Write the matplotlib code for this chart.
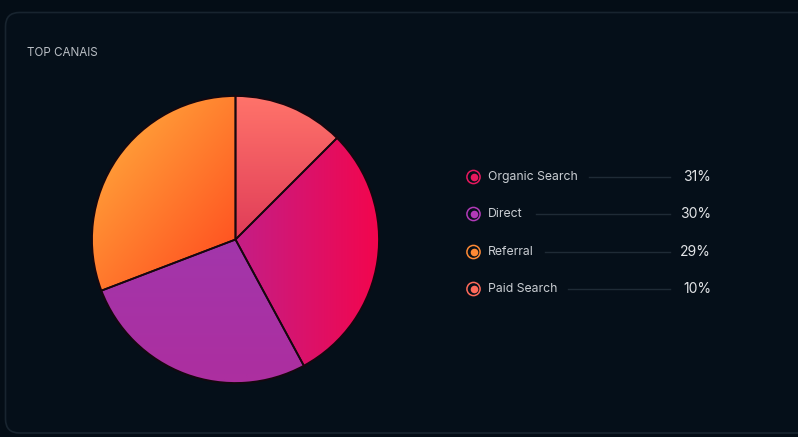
import numpy as np
import matplotlib
matplotlib.use("Agg")
import matplotlib.pyplot as plt
from matplotlib.colors import LinearSegmentedColormap
from matplotlib.patches import FancyBboxPatch

plt.rcParams["font.family"] = ["Inter", "DejaVu Sans"]

# legend data (as printed)
channels = ["Organic Search", "Direct", "Referral", "Paid Search"]
share_pct = [31, 30, 29, 10]
slice_size = [29.6, 27.1, 30.8, 12.5]
dot_colors = ["#e8185e", "#b23ab8", "#ff8a35", "#ff6a5a"]
# gradient (start, end) per slice, with direction angle in degrees
grad_colors = [("#c41e86", "#f2064e"), ("#a236ab", "#ac2fa0"),
               ("#ff9836", "#ff5522"), ("#ff736a", "#e03c58")]
grad_dir = [0, -90, -40, -90]

BG = "#040d16"
W, H = 798, 437
fig = plt.figure(figsize=(W / 100, H / 100), dpi=100, facecolor=BG)

# overlay axes in pixel coordinates
ov = fig.add_axes([0, 0, 1, 1])
ov.set_xlim(0, W)
ov.set_ylim(H, 0)
ov.axis("off")
card = FancyBboxPatch((5.5, 12.5), 820, 420.5, boxstyle="round,pad=0,rounding_size=14",
                      facecolor="#050f19", edgecolor="#18242f", linewidth=1.2)
ov.add_patch(card)
ov.text(27, 53, "TOP CANAIS", color="#b9bec4", fontsize=8.4, va="center", ha="left")

# pie
cx, cy, r = 235.5, 239.5, 143.5
pax = fig.add_axes([(cx - r) / W, (H - cy - r) / H, 2 * r / W, 2 * r / H])
pax.axis("off")
order = [3, 0, 1, 2]  # clockwise from 12 o'clock
wedges, _ = pax.pie([slice_size[i] for i in order], startangle=90, counterclock=False,
                    radius=1, colors=["none"] * 4,
                    wedgeprops=dict(edgecolor="#16070f", linewidth=1.3))
pax.set_xlim(-1, 1)
pax.set_ylim(-1, 1)

gx, gy = np.meshgrid(np.linspace(-1, 1, 300), np.linspace(1, -1, 300))
for w, i in zip(wedges, order):
    a = np.deg2rad(grad_dir[i])
    t = gx * np.cos(a) + gy * np.sin(a)
    th = np.deg2rad((w.theta1 + w.theta2) / 2)
    # normalise the gradient over the wedge's own extent
    pts = np.array([[0, 0], [np.cos(np.deg2rad(w.theta1)), np.sin(np.deg2rad(w.theta1))],
                    [np.cos(np.deg2rad(w.theta2)), np.sin(np.deg2rad(w.theta2))],
                    [np.cos(th), np.sin(th)]])
    proj = pts[:, 0] * np.cos(a) + pts[:, 1] * np.sin(a)
    t = np.clip((t - proj.min()) / (proj.max() - proj.min()), 0, 1)
    cmap = LinearSegmentedColormap.from_list("g%d" % i, grad_colors[i])
    im = pax.imshow(t, cmap=cmap, extent=(-1, 1, -1, 1), vmin=0, vmax=1,
                    interpolation="bilinear", zorder=0)
    im.set_clip_path(w)
    w.set_zorder(2)

# legend
rows_y = [177, 214, 252, 289]
label_end = [579, 526, 535, 558]
for name, pct, col, y, le in zip(channels, share_pct, dot_colors, rows_y, label_end):
    ov.scatter([473.5], [y], s=90, facecolor="none", edgecolor=col, linewidth=1.1)
    ov.scatter([473.5], [y], s=30, color=col, linewidth=0)
    ov.text(488, y, name, color="#c9cdd2", fontsize=8.8, va="center", ha="left")
    ov.plot([le + 10, 670], [y, y], color="#1f2b36", linewidth=1)
    ov.text(711, y, f"{pct}%", color="#e2e4e7", fontsize=10, va="center", ha="right")

fig.savefig("out.png", dpi=100, facecolor=BG)
